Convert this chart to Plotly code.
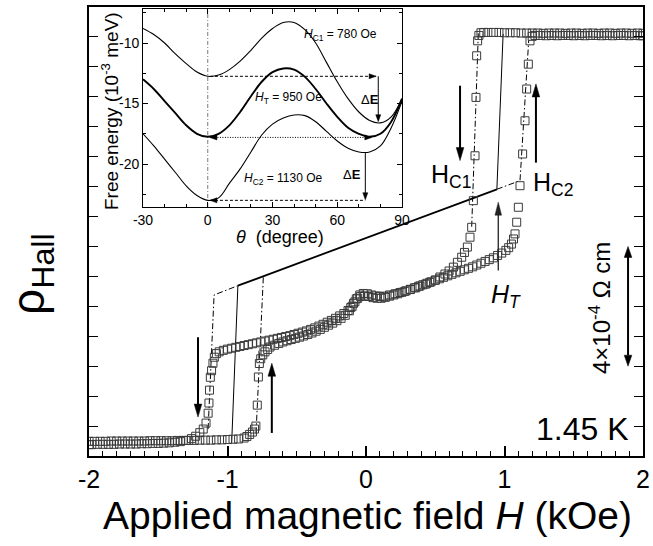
import plotly.graph_objects as go

# ---------------- main data: Hall resistivity loop (units of 1e-4 Ohm cm, offset) ----------------
H_down = [2.00, 1.96, 1.92, 1.88, 1.84, 1.80, 1.76, 1.72, 1.68, 1.64, 1.60, 1.56, 1.52, 1.48, 1.44,
          1.40, 1.36, 1.32, 1.28, 1.24, 1.20, 1.16, 1.12, 1.08, 1.04, 1.00, 0.96, 0.92, 0.88, 0.85, 0.83,
          0.815, 0.806, 0.799, 0.794, 0.787, 0.775, 0.763, 0.751, 0.732, 0.711,
          0.691, 0.660, 0.631, 0.600, 0.570, 0.534, 0.500, 0.460, 0.430, 0.390,
          0.360, 0.320, 0.280, 0.245, 0.210, 0.170, 0.130, 0.100, 0.070, 0.040,
          0.010, -0.020, -0.045, -0.070, -0.090, -0.110, -0.130, -0.160, -0.190, -0.220,
          -0.250, -0.280, -0.310, -0.340, -0.370, -0.400, -0.430, -0.460, -0.490, -0.520,
          -0.550, -0.580, -0.610, -0.640, -0.670, -0.700, -0.730, -0.760, -0.790, -0.820,
          -0.850, -0.880, -0.910, -0.940, -0.970, -1.000, -1.030, -1.060, -1.080, -1.095,
          -1.105, -1.115, -1.124, -1.130, -1.134, -1.140, -1.155, -1.175, -1.200, -1.230,
          -1.260, -1.300, -1.340, -1.380, -1.420, -1.46, -1.50, -1.54, -1.58, -1.62,
          -1.66, -1.70, -1.74, -1.78, -1.82, -1.86, -1.90, -1.94, -1.98, -2.00]
rho_down = [14.12, 14.13, 14.12, 14.13, 14.13, 14.12, 14.13, 14.13, 14.12, 14.13, 14.13, 14.12, 14.13, 14.13, 14.12,
            14.13, 14.13, 14.13, 14.12, 14.13, 14.13, 14.13, 14.13, 14.14, 14.14, 14.14, 14.15, 14.15, 14.15, 14.15, 14.14,
            14.05, 13.87, 13.37, 11.98, 10.03, 8.53, 7.64, 7.31, 6.98, 6.80,
            6.64, 6.47, 6.31, 6.18, 6.08, 5.98, 5.88, 5.80, 5.74, 5.68,
            5.62, 5.56, 5.50, 5.46, 5.42, 5.38, 5.34, 5.33, 5.35, 5.38,
            5.42, 5.43, 5.38, 5.25, 5.10, 4.96, 4.86, 4.76, 4.68, 4.60,
            4.53, 4.47, 4.40, 4.34, 4.28, 4.23, 4.18, 4.14, 4.10, 4.06,
            4.02, 3.99, 3.96, 3.93, 3.90, 3.87, 3.84, 3.81, 3.78, 3.75,
            3.72, 3.69, 3.66, 3.63, 3.60, 3.57, 3.53, 3.48, 3.42, 3.30,
            3.10, 2.85, 2.63, 2.20, 1.77, 1.43, 1.10, 0.90, 0.78, 0.66,
            0.58, 0.52, 0.48, 0.46, 0.44, 0.43, 0.42, 0.42, 0.41, 0.41,
            0.40, 0.40, 0.40, 0.40, 0.39, 0.39, 0.39, 0.39, 0.38, 0.38]

H_up = [-2.00, -1.96, -1.92, -1.88, -1.84, -1.80, -1.76, -1.72, -1.68, -1.64, -1.60, -1.56, -1.52, -1.48,
        -1.44, -1.40, -1.36, -1.32, -1.28, -1.24, -1.20, -1.16, -1.12, -1.08, -1.04, -1.00, -0.96, -0.92,
        -0.88, -0.86, -0.84, -0.82, -0.805, -0.795, -0.785, -0.777, -0.770, -0.760,
        -0.745, -0.729, -0.710, -0.693, -0.660, -0.630, -0.600, -0.570, -0.540, -0.510,
        -0.480, -0.450, -0.420, -0.390, -0.360, -0.330, -0.300, -0.270, -0.240, -0.210,
        -0.180, -0.150, -0.120, -0.100, -0.080, -0.060, -0.040, -0.010, 0.020, 0.050,
        0.080, 0.110, 0.140, 0.170, 0.200, 0.230, 0.260, 0.290, 0.320, 0.350,
        0.380, 0.410, 0.440, 0.470, 0.500, 0.530, 0.560, 0.590, 0.620, 0.650,
        0.680, 0.710, 0.740, 0.770, 0.800, 0.830, 0.860, 0.890, 0.920, 0.950,
        0.980, 1.010, 1.030, 1.050, 1.065, 1.076, 1.088, 1.100, 1.112, 1.131,
        1.148, 1.160, 1.172, 1.184, 1.200,
        1.22, 1.26, 1.30, 1.34, 1.38, 1.42, 1.46, 1.50, 1.54, 1.58, 1.62, 1.66, 1.70, 1.74,
        1.78, 1.82, 1.86, 1.90, 1.94, 1.98, 2.00]
rho_up = [0.49, 0.49, 0.49, 0.49, 0.50, 0.50, 0.50, 0.50, 0.50, 0.50, 0.50, 0.51, 0.51, 0.51,
          0.51, 0.51, 0.52, 0.52, 0.52, 0.52, 0.53, 0.53, 0.53, 0.54, 0.54, 0.55, 0.56, 0.57,
          0.60, 0.65, 0.72, 0.80, 0.90, 1.00, 1.70, 2.64, 3.09, 3.25,
          3.38, 3.48, 3.56, 3.64, 3.70, 3.76, 3.81, 3.85, 3.89, 3.93,
          3.97, 4.01, 4.06, 4.11, 4.17, 4.23, 4.30, 4.37, 4.44, 4.52,
          4.60, 4.70, 4.85, 5.00, 5.15, 5.27, 5.33, 5.35, 5.33, 5.29,
          5.27, 5.27, 5.30, 5.34, 5.38, 5.42, 5.47, 5.52, 5.57, 5.62,
          5.67, 5.72, 5.77, 5.82, 5.87, 5.92, 5.97, 6.02, 6.07, 6.12,
          6.17, 6.22, 6.27, 6.32, 6.38, 6.44, 6.50, 6.56, 6.62, 6.70,
          6.78, 6.87, 6.96, 7.08, 7.25, 7.42, 7.81, 8.31, 9.03, 10.09,
          11.20, 12.26, 13.09, 13.87, 14.02,
          14.05, 14.05, 14.04, 14.05, 14.04, 14.05, 14.05, 14.04, 14.05, 14.04, 14.05, 14.05, 14.04, 14.05,
          14.04, 14.05, 14.05, 14.04, 14.05, 14.04, 14.04]

# model lines (solid: H_T switching, dash-dot: H_C1 / H_C2 switching)
solid_left_H, solid_left_rho = [-0.970, -0.925], [0.42, 5.69]
solid_mid_H, solid_mid_rho = [-0.925, 0.945], [5.69, 8.91]
solid_right_H, solid_right_rho = [0.945, 0.990], [8.91, 14.10]
dd_a_H, dd_a_rho = [-1.140, -1.097, -0.925], [0.90, 5.38, 5.69]
dd_b_H, dd_b_rho = [-0.794, -0.741], [0.76, 6.00]
dd_c_H, dd_c_rho = [0.945, 1.112, 1.175], [8.91, 9.20, 13.90]
dd_d_H, dd_d_rho = [0.811, 0.773, 0.763], [14.12, 8.62, 7.64]

# arrows in main panel: x position, tail, tip
arrow_H = [-1.213, -0.680, 0.679, 1.227]
arrow_tail = [3.97, 0.77, 12.37, 9.80]
arrow_tip = [1.30, 3.10, 9.87, 12.43]
arrowT_H, arrowT_tail, arrowT_tip = 0.955, 6.20, 8.48
scale_H, scale_lo, scale_hi = 1.892, 3.0, 7.0

x_tickvals = [-2, -1, 0, 1, 2]
x_ticktext = ["-2", "-1", "0", "1", "2"]

# ---------------- inset data: free energy vs theta ----------------
theta = [-30, -25, -20, -15, -10, -5, 0, 5, 10, 15, 20, 25, 30, 35, 40, 45, 50, 55, 60, 65, 70, 75, 80, 85, 90]
E_hc1 = [-8.8, -9.3, -10.0, -10.9, -11.7, -12.4, -12.75, -12.65, -12.2, -11.5, -10.6, -9.6, -8.8, -8.3, -8.3,
         -8.9, -10.0, -11.6, -13.2, -14.6, -15.7, -16.4, -16.6, -16.1, -14.6]
E_ht = [-13.0, -13.8, -14.8, -15.8, -16.8, -17.5, -17.75, -17.5, -16.8, -15.7, -14.4, -13.2, -12.4, -12.1, -12.2,
        -12.8, -13.8, -15.0, -16.1, -17.0, -17.5, -17.75, -17.5, -16.5, -14.6]
E_hc2 = [-17.5, -18.5, -19.6, -20.7, -21.8, -22.6, -23.0, -22.8, -21.6, -20.4, -19.0, -17.6, -16.7, -16.2, -15.95,
         -16.0, -16.5, -17.3, -18.1, -18.7, -19.0, -19.0, -18.5, -17.0, -14.8]
lvl_top_th, lvl_top_E = [1, 78], -12.75
lvl_mid_th, lvl_mid_E = [1, 76], -17.8
lvl_bot_th, lvl_bot_E = [1, 73], -23.0
dE1_th, dE1_from, dE1_to = 79, -12.75, -16.5
dE2_th, dE2_from, dE2_to = 73, -19.05, -22.95
in_x_tickvals = [-30, 0, 30, 60, 90]
in_x_ticktext = ["-30", "0", "30", "60", "90"]
in_y_tickvals = [-10, -15, -20]
in_y_ticktext = ["-10", "-15", "-20"]

# ---------------- figure ----------------
W, Hh = 653, 546
ML, MR, MT, MB = 89, 10, 7, 90
PW, PH = W - ML - MR, Hh - MT - MB
XR, YR = [-2, 2], [0, 15]
IXD, IYD = [0.0975, 0.565], [0.5546, 0.9955]
IXR, IYR = [-30, 90], [-23.55, -7.19]
sx_main = PW / (XR[1] - XR[0])
sy_main = PH / (YR[1] - YR[0])
sx_in = PW * (IXD[1] - IXD[0]) / (IXR[1] - IXR[0])
sy_in = PH * (IYD[1] - IYD[0]) / (IYR[1] - IYR[0])

FONT = "Liberation Sans, Arial, sans-serif"
fig = go.Figure()


def line(x, y, width=1.0, dash=None, color="black", xa="x", ya="y", shape="linear"):
    fig.add_trace(go.Scatter(x=x, y=y, mode="lines", xaxis=xa, yaxis=ya, showlegend=False, hoverinfo="skip",
                             line=dict(color=color, width=width, dash=dash, shape=shape, smoothing=1.0)))


DD = "6px,2.5px,1.5px,2.5px"
line(solid_left_H, solid_left_rho, 1.0)
line(solid_mid_H, solid_mid_rho, 1.8)
line(solid_right_H, solid_right_rho, 1.0)
for hx, ry in [(dd_a_H, dd_a_rho), (dd_b_H, dd_b_rho), (dd_c_H, dd_c_rho), (dd_d_H, dd_d_rho)]:
    line(hx, ry, 1.0, DD)

for hx, ry in [(H_down, rho_down), (H_up, rho_up)]:
    fig.add_trace(go.Scatter(x=hx, y=ry, mode="markers", showlegend=False, hoverinfo="skip",
                             marker=dict(symbol="square-open", size=8, color="#3a3a3a", line=dict(width=1))))

# inset curves
line([0, 0], IYR, 0.8, "4px,2px,1px,2px", "#555", "x2", "y2")
line(theta, E_hc1, 1.1, None, "black", "x2", "y2", "spline")
line(theta, E_ht, 1.9, None, "black", "x2", "y2", "spline")
line(theta, E_hc2, 1.1, None, "black", "x2", "y2", "spline")
line(lvl_top_th, [lvl_top_E] * 2, 1.0, "3px,2px", "black", "x2", "y2")
line(lvl_mid_th, [lvl_mid_E] * 2, 1.0, "1px,1.5px", "black", "x2", "y2")
line(lvl_bot_th, [lvl_bot_E] * 2, 1.0, "3px,2px", "black", "x2", "y2")

shapes = []


def v_arrow(x, y0, y1, xr, yr, sx, sy, lw, hl, hw, color="black", both=False):
    d = 1 if y1 > y0 else -1
    b1 = y1 - d * hl / sy
    b0 = y0 + d * hl / sy if both else y0
    shapes.append(dict(type="line", xref=xr, yref=yr, x0=x, x1=x, y0=b0, y1=b1 + d * 1.0 / sy,
                       line=dict(color=color, width=lw)))
    shapes.append(dict(type="path", xref=xr, yref=yr, fillcolor=color, line=dict(color=color, width=0.5),
                       path=f"M {x},{y1} L {x - hw / sx},{b1} L {x + hw / sx},{b1} Z"))
    if both:
        shapes.append(dict(type="path", xref=xr, yref=yr, fillcolor=color, line=dict(color=color, width=0.5),
                           path=f"M {x},{y0} L {x - hw / sx},{b0} L {x + hw / sx},{b0} Z"))


def h_head(x, y, direction, xr, yr, sx, sy, hl, hw, color="black"):
    b = x - direction * hl / sx
    shapes.append(dict(type="path", xref=xr, yref=yr, fillcolor=color, line=dict(color=color, width=0.5),
                       path=f"M {x},{y} L {b},{y + hw / sy} L {b},{y - hw / sy} Z"))


for hx, t0, t1 in zip(arrow_H, arrow_tail, arrow_tip):
    v_arrow(hx, t0, t1, "x", "y", sx_main, sy_main, 2.0, 13, 3.8)
v_arrow(arrowT_H, arrowT_tail, arrowT_tip, "x", "y", sx_main, sy_main, 1.3, 13, 3.3, "#222")
v_arrow(scale_H, scale_lo, scale_hi, "x", "y", sx_main, sy_main, 2.0, 11, 3.8, both=True)

v_arrow(dE1_th, dE1_from, dE1_to, "x2", "y2", sx_in, sy_in, 1.0, 7, 2.5)
v_arrow(dE2_th, dE2_from, dE2_to, "x2", "y2", sx_in, sy_in, 1.0, 7, 2.5)
h_head(lvl_top_th[1], lvl_top_E, 1, "x2", "y2", sx_in, sy_in, 7, 2.5)
h_head(lvl_mid_th[1], lvl_mid_E, 1, "x2", "y2", sx_in, sy_in, 7, 2.5)
h_head(lvl_mid_th[0], lvl_mid_E, -1, "x2", "y2", sx_in, sy_in, 7, 2.5)
h_head(lvl_bot_th[0], lvl_bot_E, -1, "x2", "y2", sx_in, sy_in, 7, 2.5)

ann = []


def text(t, x, y, size, xref="x", yref="y", xanchor="center", yanchor="middle", angle=0):
    ann.append(dict(text=t, x=x, y=y, xref=xref, yref=yref, xanchor=xanchor, yanchor=yanchor,
                    showarrow=False, textangle=angle, font=dict(size=size, color="black", family=FONT)))


def px_x(p):
    return (p - ML) / PW


def px_y(p):
    return (MT + PH - p) / PH


text("H<sub>C1</sub>", px_x(429), px_y(176), 25, "paper", "paper", "left")
text("H<sub>C2</sub>", px_x(531), px_y(184), 25, "paper", "paper", "left")
text("<i>H</i><sub><i>T</i></sub>", px_x(489), px_y(296), 25, "paper", "paper", "left")
text("1.45 K", px_x(631), px_y(429), 32, "paper", "paper", "right")
text("4×10<sup>-4</sup> Ω cm", px_x(600), px_y(308), 24, "paper", "paper", angle=-90)
text("ρ<sub>Hall</sub>", px_x(31), px_y(274), 46, "paper", "paper", angle=-90)
text("Applied magnetic field <i>H</i> (kOe)", px_x(367), px_y(515), 39, "paper", "paper")

text("<i>H</i><sub>C1</sub> = 780 Oe", 61.3, -9.34, 12, "x2", "y2")
text("<i>H</i><sub>T</sub> = 950 Oe", 37.2, -14.55, 12, "x2", "y2")
text("<i>H</i><sub>C2</sub> = 1130 Oe", 34.9, -21.24, 12, "x2", "y2")
text("Δ<b>E</b>", 75.0, -14.63, 13, "x2", "y2")
text("Δ<b>E</b>", 66.6, -20.83, 13, "x2", "y2")
text("<i>θ</i>  (degree)", px_x(280), px_y(237), 18, "paper", "paper")
text("Free energy (10<sup>-3</sup> meV)", px_x(110), px_y(111), 19, "paper", "paper", angle=-90)

axis_common = dict(showline=True, linecolor="black", showgrid=False, zeroline=False, ticks="inside",
                   tickcolor="black", automargin=False)
fig.update_layout(
    width=W, height=Hh, margin=dict(l=ML, r=MR, t=MT, b=MB, autoexpand=False),
    paper_bgcolor="white", plot_bgcolor="white",
    font=dict(family=FONT, color="black"),
    showlegend=False,
    xaxis=dict(axis_common, range=XR, domain=[0, 1], linewidth=2, mirror=True, ticklen=10, tickwidth=1.5,
               tickvals=x_tickvals, ticktext=x_ticktext, tickfont=dict(size=25), ticklabelstandoff=0,
               minor=dict(dtick=0.1, tick0=0, ticklen=5, tickwidth=1, ticks="inside", tickcolor="black")),
    yaxis=dict(axis_common, range=YR, domain=[0, 1], linewidth=2, mirror="ticks", ticklen=9, tickwidth=1.2,
               dtick=1, tick0=0, showticklabels=False),
    xaxis2=dict(axis_common, range=IXR, domain=IXD, anchor="y2", linewidth=1, mirror="ticks", ticklen=5,
                tickwidth=1, tickvals=in_x_tickvals, ticktext=in_x_ticktext, tickfont=dict(size=14),
                minor=dict(dtick=10, tick0=0, ticklen=3, tickwidth=0.8, ticks="inside", tickcolor="black")),
    yaxis2=dict(axis_common, range=IYR, domain=IYD, anchor="x2", linewidth=1, mirror="ticks", ticklen=5,
                tickwidth=1, tickvals=in_y_tickvals, ticktext=in_y_ticktext, tickfont=dict(size=14),
                ticklabelstandoff=0,
                minor=dict(dtick=2.5, tick0=-10, ticklen=3, tickwidth=0.8, ticks="inside", tickcolor="black")),
    shapes=shapes,
    annotations=ann,
)

fig.write_html("out.html", config={"displayModeBar": False},
               post_script="document.body.style.margin='0px';")
